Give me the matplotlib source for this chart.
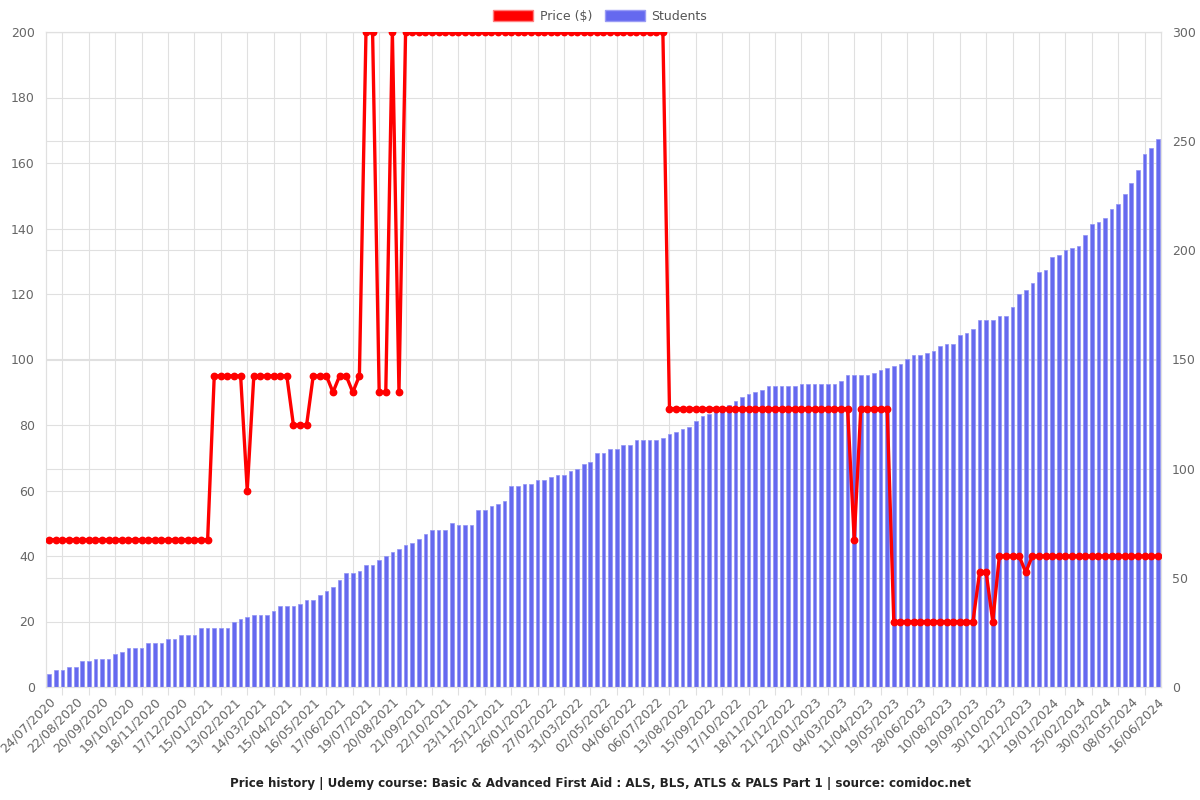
import matplotlib
matplotlib.use("Agg")
import matplotlib.pyplot as plt
from matplotlib.patches import Patch
import numpy as np

price = [45, 45, 45, 45, 45, 45, 45, 45, 45, 45,
         45, 45, 45, 45, 45, 45, 45, 45, 45, 45,
         45, 45, 45, 45, 45, 95, 95, 95, 95, 95,
         60, 95, 95, 95, 95, 95, 95, 80, 80, 80,
         95, 95, 95, 90, 95, 95, 90, 95, 200, 200,
         90, 90, 200, 90, 200, 200, 200, 200, 200, 200,
         200, 200, 200, 200, 200, 200, 200, 200, 200, 200,
         200, 200, 200, 200, 200, 200, 200, 200, 200, 200,
         200, 200, 200, 200, 200, 200, 200, 200, 200, 200,
         200, 200, 200, 200, 85, 85, 85, 85, 85, 85,
         85, 85, 85, 85, 85, 85, 85, 85, 85, 85,
         85, 85, 85, 85, 85, 85, 85, 85, 85, 85,
         85, 85, 45, 85, 85, 85, 85, 85, 20, 20,
         20, 20, 20, 20, 20, 20, 20, 20, 20, 20,
         20, 35, 35, 20, 40, 40, 40, 40, 35, 40,
         40, 40, 40, 40, 40, 40, 40, 40, 40, 40,
         40, 40, 40, 40, 40, 40, 40, 40, 40]

students = [6, 8, 8, 9, 9, 12, 12, 13, 13, 13,
            15, 16, 18, 18, 18, 20, 20, 20, 22, 22,
            24, 24, 24, 27, 27, 27, 27, 27, 30, 31,
            32, 33, 33, 33, 35, 37, 37, 37, 38, 40,
            40, 42, 44, 46, 49, 52, 52, 53, 56, 56,
            58, 60, 62, 63, 65, 66, 68, 70, 72, 72,
            72, 75, 74, 74, 74, 81, 81, 83, 84, 85,
            92, 92, 93, 93, 95, 95, 96, 97, 97, 99,
            100, 102, 103, 107, 107, 109, 109, 111, 111, 113,
            113, 113, 113, 114, 116, 117, 118, 119, 122, 124,
            125, 126, 127, 129, 131, 133, 134, 135, 136, 138,
            138, 138, 138, 138, 139, 139, 139, 139, 139, 139,
            140, 143, 143, 143, 143, 144, 145, 146, 147, 148,
            150, 152, 152, 153, 154, 156, 157, 157, 161, 162,
            164, 168, 168, 168, 170, 170, 174, 180, 182, 185,
            190, 191, 197, 198, 200, 201, 202, 207, 212, 213,
            215, 219, 221, 226, 231, 237, 244, 247, 251]

tick_labels = ["24/07/2020", "22/08/2020", "20/09/2020", "19/10/2020", "18/11/2020",
               "17/12/2020", "15/01/2021", "13/02/2021", "14/03/2021", "15/04/2021",
               "16/05/2021", "17/06/2021", "19/07/2021", "20/08/2021", "21/09/2021",
               "22/10/2021", "23/11/2021", "25/12/2021", "26/01/2022", "27/02/2022",
               "31/03/2022", "02/05/2022", "04/06/2022", "06/07/2022", "13/08/2022",
               "15/09/2022", "17/10/2022", "18/11/2022", "21/12/2022", "22/01/2023",
               "04/03/2023", "11/04/2023", "19/05/2023", "28/06/2023", "10/08/2023",
               "19/09/2023", "30/10/2023", "12/12/2023", "19/01/2024", "25/02/2024",
               "30/03/2024", "08/05/2024", "16/06/2024"]

price_ticks = [0, 20, 40, 60, 80, 100, 120, 140, 160, 180, 200]
student_ticks = [0, 50, 100, 150, 200, 250, 300]

title = ("Price history | Udemy course: Basic & Advanced First Aid : ALS, BLS, "
         "ATLS & PALS Part 1 | source: comidoc.net")

GRID = "#e0e0e0"
TXT = "#666666"
BAR = "#6569ef"
RED = "#ff0000"

x = np.arange(len(students))

fig = plt.figure(figsize=(12, 8), dpi=100)
ax = fig.add_axes([46 / 1200, 1 - 687 / 800, (1161 - 46) / 1200, (687 - 32) / 800])
ax2 = ax.twinx()

# left axis: price grid only (drawn below everything)
ax.set_ylim(0, 200)
ax.set_xlim(-0.5, len(students) - 0.5)
ax.set_yticks(price_ticks)
ax.set_xticks(x[::4])
ax.set_xticklabels(tick_labels, rotation=45, ha="right", rotation_mode="anchor",
                   fontsize=9, color=TXT)
ax.set_xticks(x[2::4], minor=True)
ax.tick_params(axis="x", which="major", length=0, pad=6)
ax.tick_params(axis="x", which="minor", length=6, color=GRID, width=0.8)
ax.tick_params(axis="y", length=0, labelsize=9, labelcolor=TXT, pad=8)
ax.grid(True, axis="y", color=GRID, linewidth=0.8)
ax.grid(True, axis="x", which="minor", color=GRID, linewidth=0.8)
ax.set_axisbelow(True)

# right axis: students bars + price line on top
ax2.set_ylim(0, 300)
ax2.set_yticks(student_ticks)
ax2.tick_params(axis="y", length=0, labelsize=9, labelcolor=TXT, pad=8)
ax2.grid(True, axis="y", color=GRID, linewidth=0.8)
ax2.set_axisbelow(True)
ax2.bar(x, students, width=0.55, color=BAR, edgecolor="#9093f4", linewidth=0.5,
        zorder=2)
ax2.plot(x, price, color=RED, linewidth=2.4, marker="o", markersize=4.6,
         transform=ax.transData, zorder=3, clip_on=True)

for a in (ax, ax2):
    for s in a.spines.values():
        s.set_color(GRID)
        s.set_linewidth(0.8)

handles = [Patch(facecolor=RED, edgecolor="#ff8080", linewidth=1),
           Patch(facecolor=BAR, edgecolor="#9a9cf5", linewidth=1)]
fig.legend(handles, ["Price ($)", "Students"], loc="center",
           bbox_to_anchor=(0.5, 1 - 16 / 800), ncol=2, frameon=False,
           fontsize=9, handlelength=3.2, handleheight=1.0, handletextpad=0.5,
           columnspacing=1.0, labelcolor="#555555")

fig.text(0.5, 1 - 783 / 800, title, ha="center", va="center", fontsize=8.6,
         fontweight="bold", color="#222222")

fig.savefig("out.png", dpi=100)
